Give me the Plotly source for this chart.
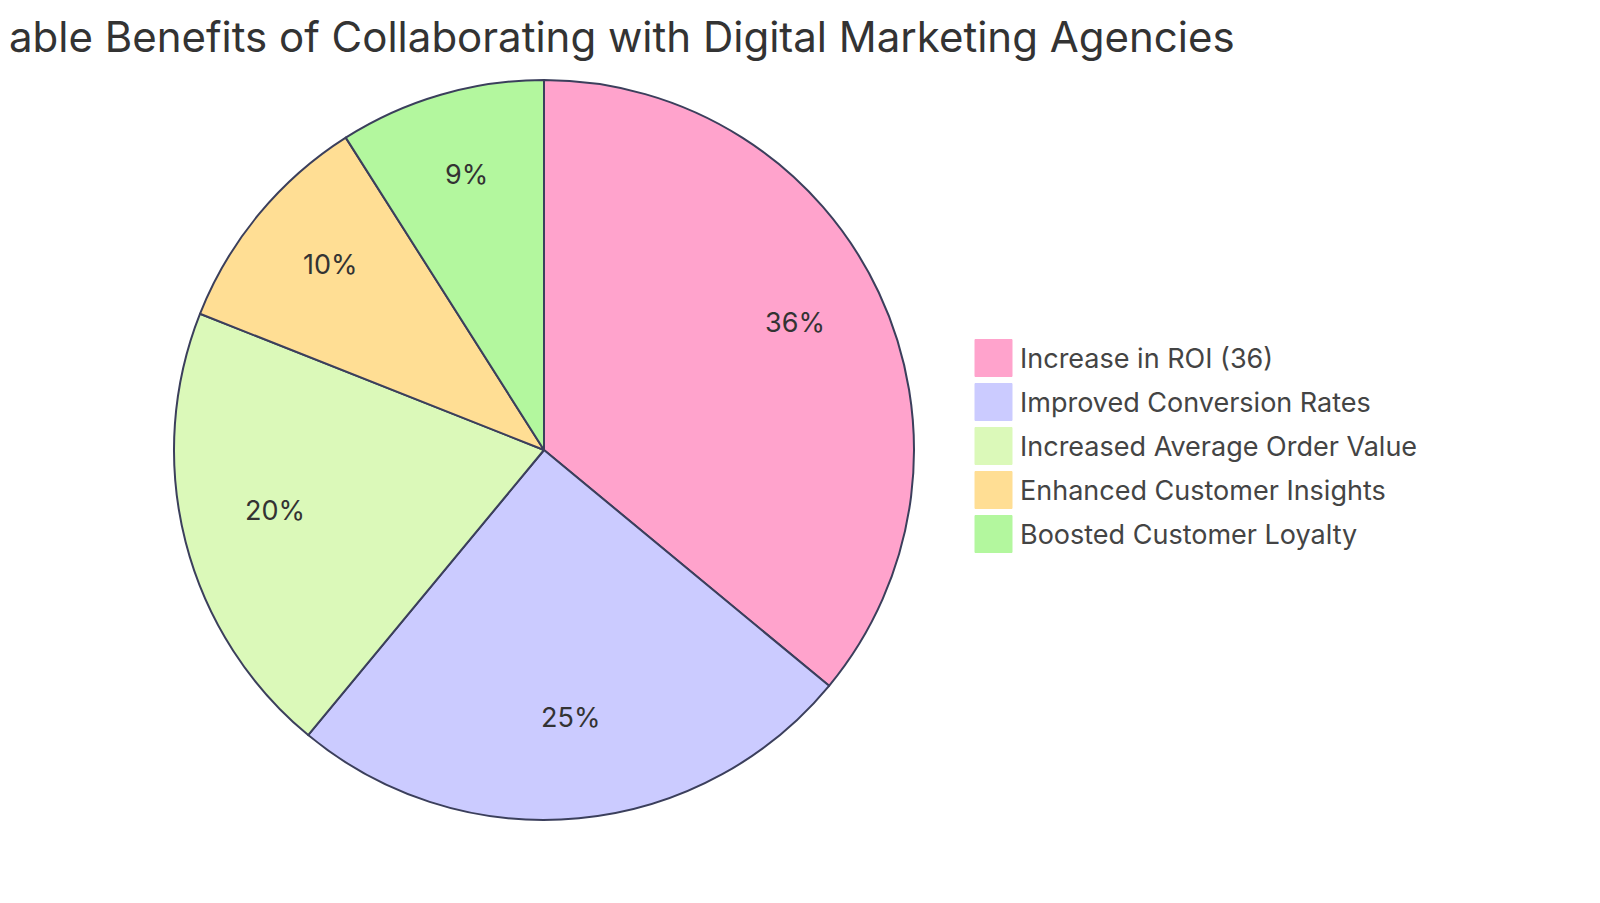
import math
import plotly.graph_objects as go

labels = ["Increase in ROI (36)", "Improved Conversion Rates", "Increased Average Order Value",
          "Enhanced Customer Insights", "Boosted Customer Loyalty"]
values = [36, 25, 20, 10, 9]
colors = ["#FFA3CC", "#CBCBFF", "#DBF9B9", "#FFDE94", "#B3F79E"]
title = "Quantifiable Benefits of Collaborating with Digital Marketing Agencies"

W, H = 1600, 903
OFF = 8  # page body margin
cx, cy, r = 544 - OFF, 450 - OFF, 370

def px(x):
    return x / W

def py(y):
    return 1 - y / H

FONT = "Inter, sans-serif"

fig = go.Figure()
fig.add_trace(go.Pie(
    labels=labels, values=values, sort=False, direction="clockwise", rotation=0,
    marker=dict(colors=colors, line=dict(color="#3B3F5C", width=2)),
    textinfo="none",
    domain=dict(x=[px(cx - r), px(cx + r)], y=[py(cy + r), py(cy - r)]),
    showlegend=False, hoverinfo="label+value+percent",
))

# percentage labels at 0.75 radius along each slice's mid-angle
total = sum(values)
cum = 0
for v in values:
    mid = (cum + v / 2) / total * 2 * math.pi
    cum += v
    lx_ = cx + 0.75 * r * math.sin(mid)
    ly_ = cy - 0.75 * r * math.cos(mid) - 9
    fig.add_annotation(x=px(lx_), y=py(ly_), xref="paper", yref="paper",
                       text=f"{round(v / total * 100)}%", showarrow=False,
                       xanchor="center", yanchor="middle",
                       font=dict(family=FONT, size=27, color="#333333"))

# custom legend
y0, step, sq = 358 - OFF, 44, 37
lx = 975 - OFF
for i, (lab, col) in enumerate(zip(labels, colors)):
    yc = y0 + i * step
    fig.add_shape(type="rect", xref="paper", yref="paper",
                  x0=px(lx), x1=px(lx + sq), y0=py(yc + sq / 2), y1=py(yc - sq / 2),
                  fillcolor=col, line=dict(color=col, width=1))
    fig.add_annotation(x=px(1018 - OFF), y=py(yc), xref="paper", yref="paper", text=lab,
                       showarrow=False, xanchor="left", yanchor="middle",
                       font=dict(family=FONT, size=27, color="#444444"))

fig.add_annotation(x=px(1237 - OFF), y=py(36 - OFF), xref="paper", yref="paper", text=title,
                   showarrow=False, xanchor="right", yanchor="middle",
                   font=dict(family=FONT, size=42, color="#333333"))

fig.update_layout(width=W, height=H, margin=dict(l=0, r=0, t=0, b=0),
                  paper_bgcolor="white", plot_bgcolor="white")
fig.write_html("out.html")
